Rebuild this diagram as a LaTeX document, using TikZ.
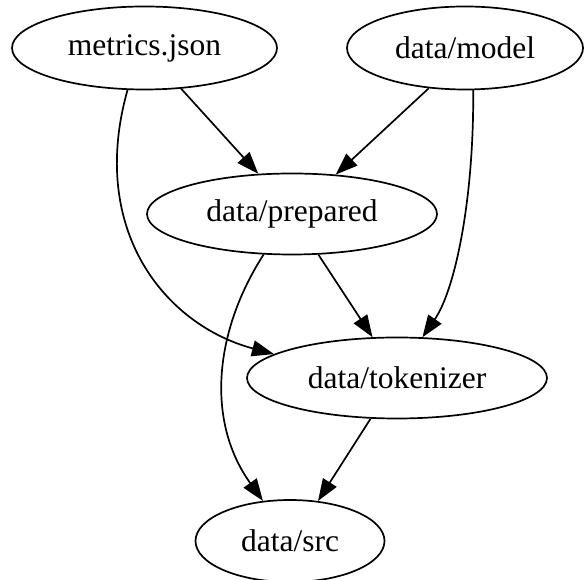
\documentclass[tikz,border=0pt]{standalone}
\usepackage{fontspec}
\setmainfont{Liberation Serif}
\usetikzlibrary{shapes.geometric,arrows.meta}
\begin{document}
\begin{tikzpicture}[x=1pt,y=1pt,
  gnode/.style={draw,ellipse,line width=1.7pt,inner sep=0pt,font=\fontsize{31.5}{36}\selectfont},
  edge/.style={line width=1.7pt,-{Triangle[length=22pt,width=16pt]}}]
\useasboundingbox (0,0) rectangle (584,580);
\node[gnode,minimum width=265pt,minimum height=83pt] (m) at (144.5,532) {metrics.json};
\node[gnode,minimum width=236pt,minimum height=83pt] (d) at (465,532) {data/model};
\node[gnode,minimum width=290pt,minimum height=81pt] (p) at (292,366) {data/prepared};
\node[gnode,minimum width=300pt,minimum height=81pt] (t) at (397,202) {data/tokenizer};
\node[gnode,minimum width=189pt,minimum height=82pt] (s) at (290,39) {data/src};
\draw[edge] (m.-48.2) -- (p.130.5);
\draw[edge] (d.-132.8) -- (p.42.3);
\draw[edge] (d.-79.2) .. controls (474,380) and (455,290) .. (t.58);
\draw[edge] (m.-112.6) .. controls (88,350) and (165,255) .. (t.169.3);
\draw[edge] (p.-57.6) -- (t.121.4);
\draw[edge] (p.-125.3) .. controls (215,250) and (205,160) .. (s.124.7);
\draw[edge] (t.-123.4) -- (s.55.3);
\end{tikzpicture}
\end{document}
